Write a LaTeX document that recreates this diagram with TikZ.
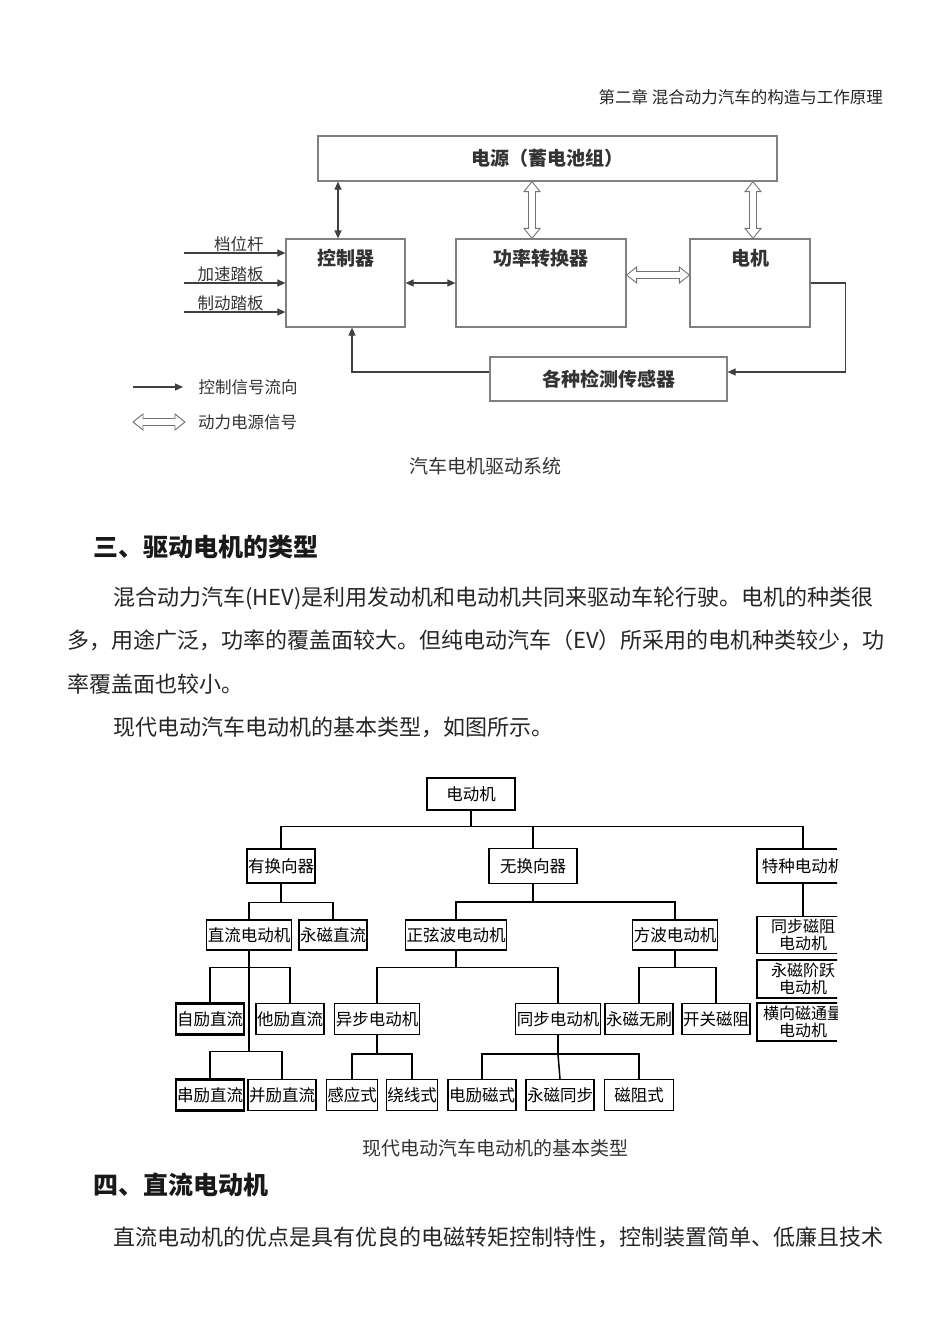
\documentclass[tikz,border=0pt]{standalone}
\usepackage{fontspec}
\setmainfont{Noto Sans CJK SC}
\usetikzlibrary{arrows.meta,positioning}

% hollow double arrows (power flow), vertical and horizontal
\newcommand\hollowv[2]{%
  \draw[hollow] (#1) -- ([xshift=8,yshift=-10]#1) -- ([xshift=3.5,yshift=-10]#1)
    -- ([xshift=3.5,yshift=10]#2) -- ([xshift=8,yshift=10]#2) -- (#2)
    -- ([xshift=-8,yshift=10]#2) -- ([xshift=-3.5,yshift=10]#2)
    -- ([xshift=-3.5,yshift=-10]#1) -- ([xshift=-8,yshift=-10]#1) -- cycle;}
\newcommand\hollowh[2]{%
  \draw[hollow] (#1) -- ([xshift=10,yshift=8]#1) -- ([xshift=10,yshift=3.5]#1)
    -- ([xshift=-10,yshift=3.5]#2) -- ([xshift=-10,yshift=8]#2) -- (#2)
    -- ([xshift=-10,yshift=-8]#2) -- ([xshift=-10,yshift=-3.5]#2)
    -- ([xshift=10,yshift=-3.5]#1) -- ([xshift=10,yshift=-8]#1) -- cycle;}

\tikzset{
  box/.style={draw=black!50, line width=1.2pt, font=\fontsize{19}{22}\selectfont\bfseries, text=black!80},
  btext/.style={font=\fontsize{19}{22}\selectfont\bfseries, text=black!80, inner sep=0pt},
  lbl/.style={font=\fontsize{16.5}{19}\selectfont, text=black!80, inner sep=1pt},
  sig/.style={draw=black!75, line width=1.2pt},
  hollow/.style={draw=black!55, line width=0.9pt, fill=white},
  tbox/.style={draw, line width=1.4pt, font=\fontsize{16.5}{17}\selectfont, inner xsep=1pt, inner ysep=0pt, minimum height=31pt, align=center},
  tline/.style={line width=1.5pt},
  body/.style={font=\fontsize{22}{26}\selectfont, anchor=west, inner sep=0pt, text=black!85},
  headtxt/.style={font=\fontsize{25}{28}\selectfont\bfseries, anchor=west, inner sep=0pt, text=black!90},
  captxt/.style={font=\fontsize{19}{21}\selectfont, inner sep=0pt, text=black!80},
}

\begin{document}
\begin{tikzpicture}[x=1pt, y=-1pt, >={Triangle[length=8pt,width=7pt]}]
  \useasboundingbox[fill=white] (0,0) rectangle (950,1342);

  % page text
  \node[font=\fontsize{16.5}{18}\selectfont, anchor=east, inner sep=0pt, text=black!85] (hdr) at (883,97) {第二章\ 混合动力汽车的构造与工作原理};
  \node[captxt] (cap1) at (485,466) {汽车电机驱动系统};
  \node[headtxt] (h3) at (93,547) {三、驱动电机的类型};
  \node[body] (p1) at (113,598) {混合动力汽车(HEV)是利用发动机和电动机共同来驱动车轮行驶。电机的种类很};
  \node[body] (p2) at (67,640) {多，用途广泛，功率的覆盖面较大。但纯电动汽车（EV）所采用的电机种类较少，功};
  \node[body] (p3) at (67,684) {率覆盖面也较小。};
  \node[body] (p4) at (113,727) {现代电动汽车电动机的基本类型，如图所示。};
  \node[captxt] (cap2) at (495,1148) {现代电动汽车电动机的基本类型};
  \node[headtxt] (h4) at (93,1185) {四、直流电动机};
  \node[body] (p5) at (113,1237) {直流电动机的优点是具有优良的电磁转矩控制特性，控制装置简单、低廉且技术};

  % drive system
  \node[box, minimum width=459pt, minimum height=45pt] (src) at (547.5,158.5) {电源（蓄电池组）};
  \node[box, minimum width=119pt, minimum height=88pt] (ctrl) at (345.5,283) {};
  \node[box, minimum width=170pt, minimum height=88pt] (pc) at (541,283) {};
  \node[box, minimum width=120pt, minimum height=88pt] (mot) at (750,283) {};
  \node[box, minimum width=237pt, minimum height=44pt] (sens) at (608.5,379) {各种检测传感器};
  \node[btext, below=11pt] at (ctrl.north) {控制器};
  \node[btext, below=11pt] at (pc.north) {功率转换器};
  \node[btext, below=11pt] at (mot.north) {电机};

  \draw[sig, <->] ([xshift=-7.5]ctrl.north |- src.south) -- ([xshift=-7.5]ctrl.north);
  \draw[sig, <->] (ctrl.east) -- (pc.west);
  \draw[sig, ->] (mot.east) -- ++(35,0) |- ([yshift=7]sens.east);
  \draw[sig, ->] ([yshift=7]sens.west) -| ([xshift=6.5]ctrl.south);
  \draw[sig, <-] ([yshift=30]ctrl.west) -- ++(-101,0) node[lbl, pos=0.2, anchor=south east] {档位杆};
  \draw[sig, <-] (ctrl.west) -- ++(-101,0) node[lbl, pos=0.2, anchor=south east] {加速踏板};
  \draw[sig, <-] ([yshift=-29]ctrl.west) -- ++(-101,0) node[lbl, pos=0.2, anchor=south east] {制动踏板};

  \coordinate (a1) at ([xshift=-9]pc.north |- src.south);
  \coordinate (a2) at ([xshift=-9]pc.north);
  \coordinate (a3) at ([xshift=3]mot.north |- src.south);
  \coordinate (a4) at ([xshift=3]mot.north);
  \coordinate (a5) at ([yshift=8]pc.east);
  \coordinate (a6) at ([yshift=8]mot.west);
  \hollowv{a1}{a2}
  \hollowv{a3}{a4}
  \hollowh{a5}{a6}

  % legend
  \coordinate (lg1) at (133,387);
  \coordinate (lg2) at (133,422);
  \coordinate (lg3) at (185,422);
  \draw[sig, ->] (lg1) -- ++(50,0) node[lbl, right=14pt] {控制信号流向};
  \hollowh{lg2}{lg3}
  \node[lbl, right=12pt] at (lg3) {动力电源信号};

  % motor types
  \begin{scope}
    \clip (170,755) rectangle (837,1125);
    \node[tbox, minimum width=88pt, minimum height=32pt] (motor) at (471,794) {电动机};
    \node[tbox, minimum height=34pt] (comm) at (281,866) {有换向器};
    \node[tbox, minimum width=88pt, minimum height=35pt] (nocomm) at (533,866) {无换向器};
    \node[tbox, minimum width=92pt, minimum height=34pt] (spec) at (803,866) {特种电动机};
    \node[tbox, minimum height=30pt] (dc) at (249,935) {直流电动机};
    \node[tbox, minimum height=30pt] (pmdc) at (333,935) {永磁直流};
    \node[tbox, minimum height=30pt] (sine) at (456,935) {正弦波电动机};
    \node[tbox, minimum height=30pt] (square) at (675,935) {方波电动机};
    \node[tbox, line width=2.2pt] (self) at (210,1019) {自励直流};
    \node[tbox] (sep) at (290,1019) {他励直流};
    \node[tbox] (async) at (377,1019) {异步电动机};
    \node[tbox] (sync) at (558,1019) {同步电动机};
    \node[tbox] (pmbl) at (639,1019) {永磁无刷};
    \node[tbox] (sr) at (716,1019) {开关磁阻};
    \node[tbox, line width=2.2pt] (series) at (210,1095) {串励直流};
    \node[tbox] (shunt) at (282,1095) {并励直流};
    \node[tbox] (ind) at (352,1095) {感应式};
    \node[tbox] (wound) at (412,1095) {绕线式};
    \node[tbox] (ee) at (482,1095) {电励磁式};
    \node[tbox] (pms) at (560,1095) {永磁同步};
    \node[tbox, minimum width=69pt] (rel) at (639,1095) {磁阻式};
    \node[tbox, minimum width=92pt, minimum height=37pt, font=\fontsize{16}{17}\selectfont] (srm) at (803,935) {同步磁阻\\电动机};
    \node[tbox, minimum width=92pt, minimum height=38pt, font=\fontsize{16}{17}\selectfont] (pmstep) at (803,979) {永磁阶跃\\电动机};
    \node[tbox, minimum width=92pt, minimum height=38pt, font=\fontsize{16}{17}\selectfont] (tfm) at (803,1022) {横向磁通量\\电动机};

    \draw[tline] (motor.south) -- ++(0,16) coordinate (j1);
    \draw[tline] (comm.north) |- (j1) -| (spec.north);
    \draw[tline] (j1) -| (nocomm.north);
    \draw[tline] (comm.south) -- ++(0,19) coordinate (j2);
    \draw[tline] (dc.north) |- (j2) -| (pmdc.north);
    \draw[tline] (nocomm.south) -- ++(0,18) coordinate (j3);
    \draw[tline] (sine.north) |- (j3) -| (square.north);
    \draw[tline] (spec.south) -- (srm.north);
    \draw[tline] (dc.south) -- ++(0,17) coordinate (j4);
    \draw[tline] (self.north) |- (j4) -| (sep.north);
    \draw[tline] (j4) -- ++(0,84) coordinate (j5);
    \draw[tline] (series.north) |- (j5) -| (shunt.north);
    \draw[tline] (sine.south) -- ++(0,17) coordinate (j6);
    \draw[tline] (async.north) |- (j6) -| (sync.north);
    \draw[tline] (square.south) -- ++(0,17) coordinate (j7);
    \draw[tline] (pmbl.north) |- (j7) -| (sr.north);
    \draw[tline] (async.south) -- ++(0,19) coordinate (j8);
    \draw[tline] (ind.north) |- (j8) -| (wound.north);
    \draw[tline] (sync.south) -- ++(0,19) coordinate (j9);
    \draw[tline] (ee.north) |- (j9) -| (rel.north);
    \draw[tline] (j9) -- (pms.north);
  \end{scope}
\end{tikzpicture}
\end{document}
